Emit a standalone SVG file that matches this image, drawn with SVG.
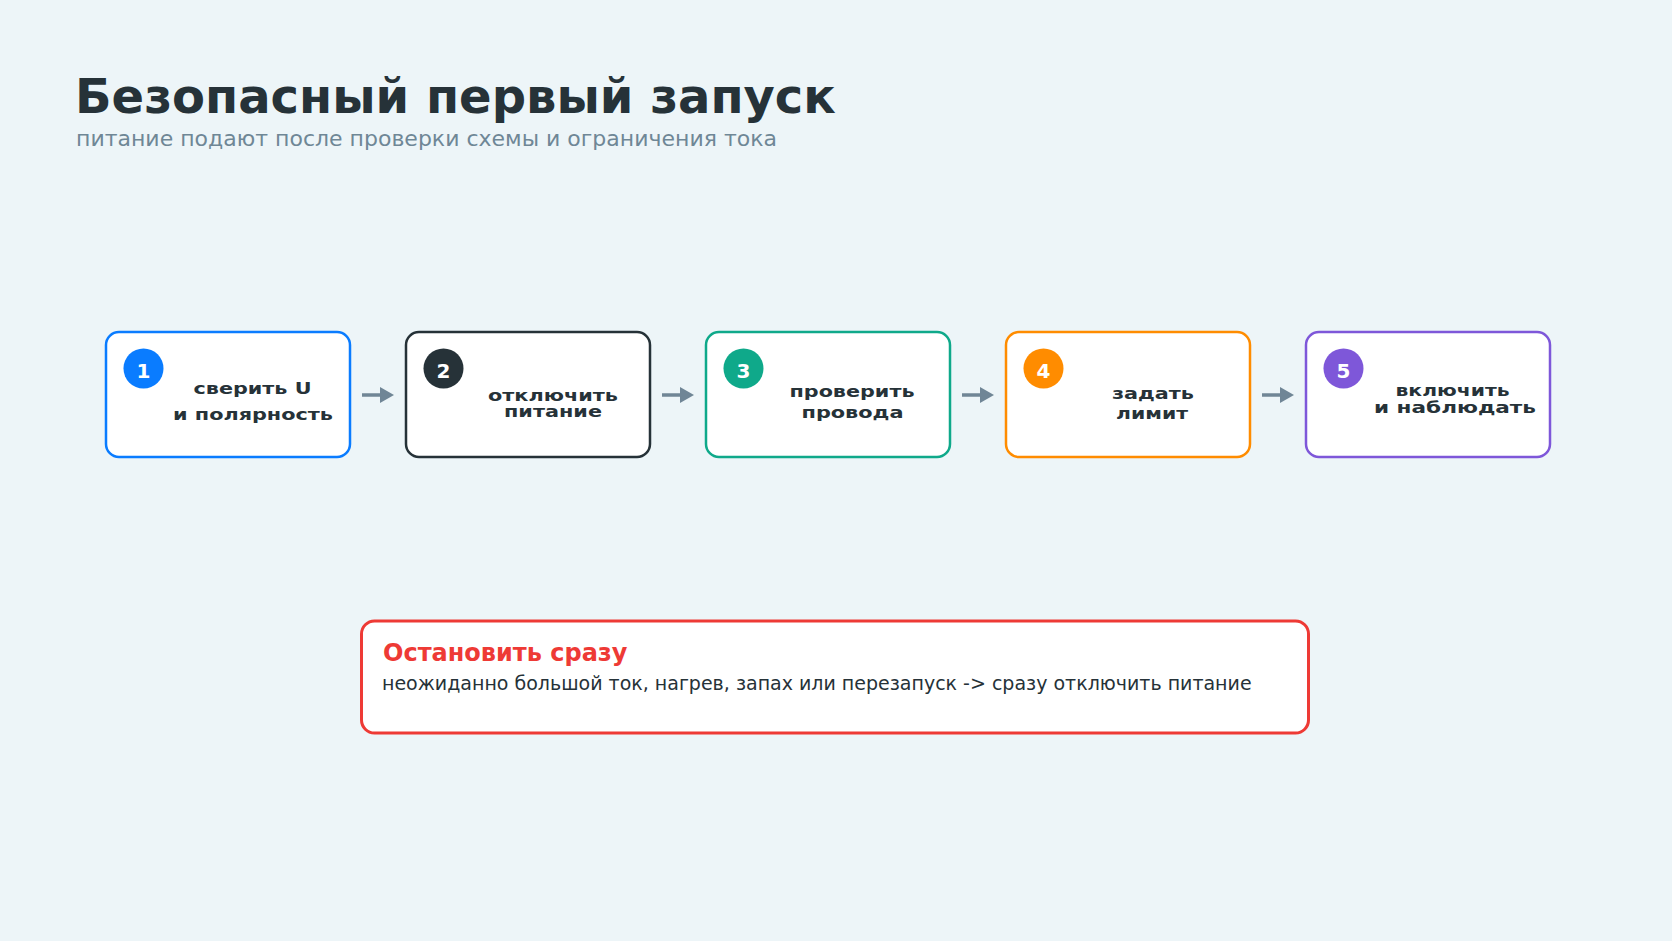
<svg xmlns="http://www.w3.org/2000/svg" width="1672" height="941" viewBox="0 0 1672 941">
<style>
.bg{fill:#edf5f8}
.title{font-family:"DejaVu Sans",sans-serif;font-weight:bold;font-size:48px;fill:#263238}
.sub{font-family:"DejaVu Sans",sans-serif;font-size:22px;fill:#6f8796}
.box{fill:#ffffff;stroke-width:2.5}
.num{font-family:"DejaVu Sans",sans-serif;font-weight:bold;font-size:20px;fill:#ffffff;text-anchor:middle}
.lbl{font-family:"DejaVu Sans",sans-serif;font-weight:bold;font-size:16.5px;fill:#263238;text-anchor:middle}
.conn line{stroke:#708696;stroke-width:3.5}
.conn polygon{fill:#708696}
.alert{fill:#ffffff;stroke:#ee3a35;stroke-width:3}
.atitle{font-family:"DejaVu Sans",sans-serif;font-weight:bold;font-size:24px;fill:#ee3a35}
.abody{font-family:"DejaVu Sans",sans-serif;font-size:19px;fill:#263238}
</style>
<rect class="bg" x="0" y="0" width="1672" height="941"/>
<g id="header">
<text class="title" x="75" y="113">Безопасный первый запуск</text>
<text class="sub" x="76" y="146">питание подают после проверки схемы и ограничения тока</text>
</g>
<g id="step1">
<rect class="box" x="106" y="332" width="244" height="125" rx="13" stroke="#0a7cff"/>
<circle cx="143.5" cy="368.5" r="20" fill="#0a7cff"/>
<text class="num" x="143.5" y="378">1</text>
<text class="lbl" x="252.5" y="394" textLength="118" lengthAdjust="spacingAndGlyphs">сверить U</text>
<text class="lbl" x="253" y="420" textLength="160" lengthAdjust="spacingAndGlyphs">и полярность</text>
</g>
<g id="step2">
<rect class="box" x="406" y="332" width="244" height="125" rx="13" stroke="#263238"/>
<circle cx="443.5" cy="368.5" r="20" fill="#263238"/>
<text class="num" x="443.5" y="378">2</text>
<text class="lbl" x="553" y="401" textLength="130" lengthAdjust="spacingAndGlyphs">отключить</text>
<text class="lbl" x="553" y="417" textLength="98" lengthAdjust="spacingAndGlyphs">питание</text>
</g>
<g id="step3">
<rect class="box" x="706" y="332" width="244" height="125" rx="13" stroke="#0fa98a"/>
<circle cx="743.5" cy="368.5" r="20" fill="#0fa98a"/>
<text class="num" x="743.5" y="378">3</text>
<text class="lbl" x="852" y="397" textLength="125" lengthAdjust="spacingAndGlyphs">проверить</text>
<text class="lbl" x="852.5" y="418" textLength="102" lengthAdjust="spacingAndGlyphs">провода</text>
</g>
<g id="step4">
<rect class="box" x="1006" y="332" width="244" height="125" rx="13" stroke="#ff8c00"/>
<circle cx="1043.5" cy="368.5" r="20" fill="#ff8c00"/>
<text class="num" x="1043.5" y="378">4</text>
<text class="lbl" x="1153" y="399" textLength="82" lengthAdjust="spacingAndGlyphs">задать</text>
<text class="lbl" x="1152" y="419" textLength="72" lengthAdjust="spacingAndGlyphs">лимит</text>
</g>
<g id="step5">
<rect class="box" x="1306" y="332" width="244" height="125" rx="13" stroke="#7e57d9"/>
<circle cx="1343.5" cy="368.5" r="20" fill="#7e57d9"/>
<text class="num" x="1343.5" y="378">5</text>
<text class="lbl" x="1452.5" y="395.5" textLength="114" lengthAdjust="spacingAndGlyphs">включить</text>
<text class="lbl" x="1455" y="413" textLength="162" lengthAdjust="spacingAndGlyphs">и наблюдать</text>
</g>
<g id="connectors" class="conn">
<line x1="362" y1="395" x2="382" y2="395"/><polygon points="380,387 394,395 380,403"/>
<line x1="662" y1="395" x2="682" y2="395"/><polygon points="680,387 694,395 680,403"/>
<line x1="962" y1="395" x2="982" y2="395"/><polygon points="980,387 994,395 980,403"/>
<line x1="1262" y1="395" x2="1282" y2="395"/><polygon points="1280,387 1294,395 1280,403"/>
</g>
<g id="alert">
<rect class="alert" x="361.5" y="621" width="947" height="112" rx="13"/>
<text class="atitle" x="383" y="661">Остановить сразу</text>
<text class="abody" x="382" y="690">неожиданно большой ток, нагрев, запах или перезапуск -&gt; сразу отключить питание</text>
</g>
</svg>
